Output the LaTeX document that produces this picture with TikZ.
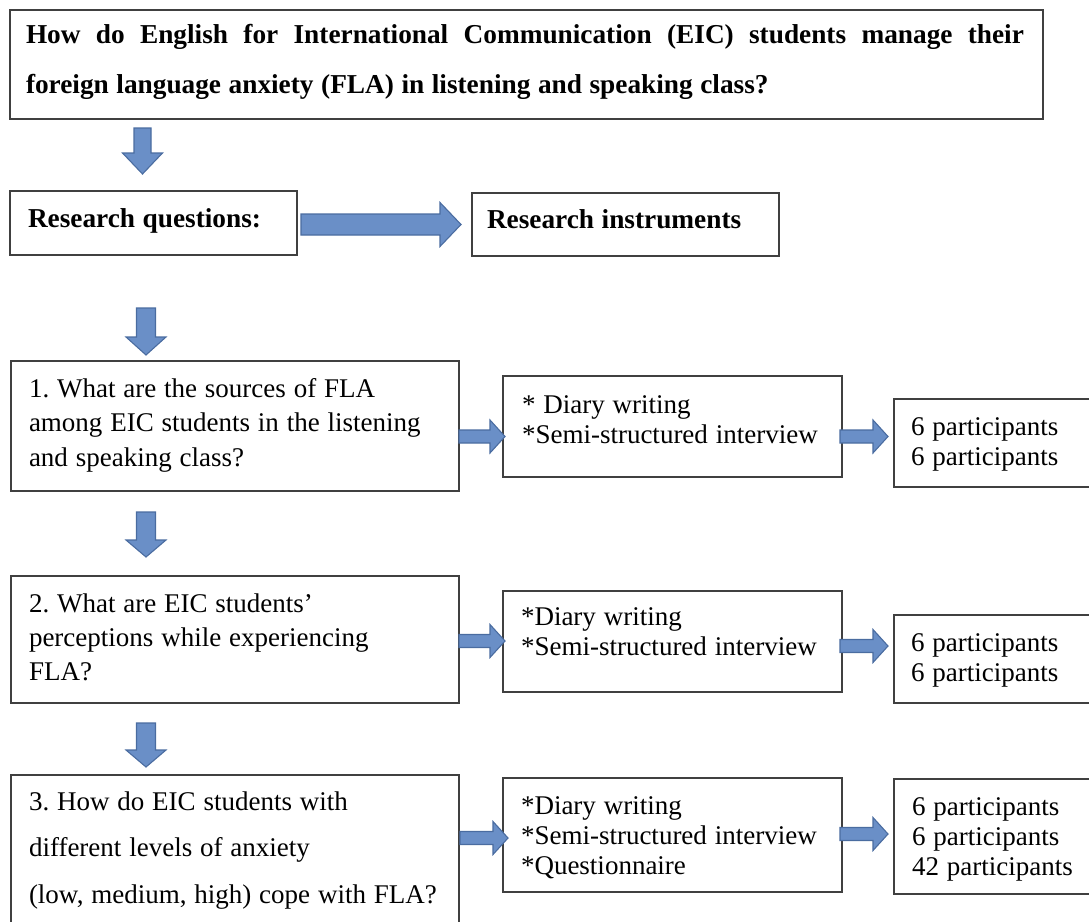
\documentclass[tikz,border=0pt]{standalone}
\usepackage{fontspec}
\setmainfont{Liberation Serif}
\usetikzlibrary{calc}
\frenchspacing

\definecolor{arrowfill}{RGB}{106,143,199}
\definecolor{arrowline}{RGB}{74,108,160}
\definecolor{boxline}{RGB}{64,64,64}

\tikzset{
  box/.style={draw=boxline, line width=1.4pt, fill=white, inner sep=0pt, outer sep=0pt},
  txt/.style={anchor=base west, inner sep=0pt, outer sep=0pt, align=left,
    execute at begin node={\spaceskip=0.29em\relax}},
  headtxt/.style={txt, execute at begin node={\spaceskip=0.277em\relax}},
  blockarrow/.style={fill=arrowfill, draw=arrowline, line width=1.1pt, line join=miter},
}

% block arrow from #1 to #2: shaft half width #3, head half width #4, head length #5
\newcommand{\blockarrow}[5]{%
  \path[blockarrow] let \p1=#1, \p2=#2,
      \n1={atan2(\y2-\y1,\x2-\x1)}, \n2={veclen(\x2-\x1,\y2-\y1)} in
    [shift={(\p1)}, rotate=\n1]
    (0,-#3) -- (\n2-#5,-#3) -- (\n2-#5,-#4) -- (\n2,0) -- (\n2-#5,#4)
    -- (\n2-#5,#3) -- (0,#3) -- cycle;}

% text sizes with their line pitch
\newcommand{\txtsize}[1]{\fontsize{27pt}{#1}\selectfont}
\newcommand{\headsize}[1]{\fontsize{27.3pt}{#1}\selectfont}
% a line whose word spaces stretch to the given width
\newcommand{\fullline}[2]{\makebox[#1][s]{\spaceskip=0.2em plus 1fil\relax #2}}

\begin{document}
\begin{tikzpicture}[x=1pt,y=-1pt]
\useasboundingbox (0,0) rectangle (1089,921);
\clip (0,0) rectangle (1089,921);

% boxes
\node[box, minimum width=1033pt, minimum height=109pt] (top) at (526.5,64.5) {};
\node[box, minimum width=287pt, minimum height=64pt] (rq) at (153.5,223) {};
\node[box, minimum width=307pt, minimum height=63pt] (ri) at (625.5,224.5) {};

\node[box, minimum width=448pt, minimum height=130pt] (q1) at (235,426) {};
\node[box, minimum width=339pt, minimum height=101pt] (i1) at (672.5,426.5) {};
\node[box, minimum width=206pt, minimum height=88pt] (p1) at (997,443) {};

\node[box, minimum width=448pt, minimum height=127pt] (q2) at (235,639.5) {};
\node[box, minimum width=339pt, minimum height=101pt] (i2) at (672.5,641.5) {};
\node[box, minimum width=206pt, minimum height=88pt] (p2) at (997,659) {};

\node[box, minimum width=448pt, minimum height=170pt] (q3) at (235,860) {};
\node[box, minimum width=339pt, minimum height=114pt] (i3) at (672.5,835) {};
\node[box, minimum width=206pt, minimum height=115pt] (p3) at (997,836.5) {};

% texts
\node[headtxt, text width=1000pt, font=\bfseries\headsize{50pt}] (toptext)
  at ($(top.north west)+(16,33)$)
  {\fullline{998pt}{How do English for International Communication (EIC) students manage their}\\
   foreign language anxiety (FLA) in listening and speaking class?};
\node[headtxt, font=\bfseries\headsize{34pt}] (rqtext) at ($(rq.north west)+(18,36)$) {Research questions:};
\node[headtxt, font=\bfseries\headsize{34pt}] (ritext) at ($(ri.north west)+(15,35)$) {Research instruments};

\node[txt, text width=440pt, font=\txtsize{34.5pt}] (q1text) at ($(q1.north west)+(18,36)$)
  {1. What are the sources of FLA\\{}among EIC students in the listening\\{}and speaking class?};
\node[txt, text width=440pt, font=\txtsize{34pt}] (q2text) at ($(q2.north west)+(18,36)$)
  {2. What are EIC students’\\{}perceptions while experiencing\\{}FLA?};
\node[txt, text width=440pt, font=\txtsize{46.7pt}] (q3text) at ($(q3.north west)+(18,35)$)
  {3. How do EIC students with\\{}different levels of anxiety\\{}(low, medium, high) cope with FLA?};

\node[txt, text width=330pt, font=\txtsize{30pt}] (i1text) at ($(i1.north west)+(19,37)$)
  {* Diary writing\\{}*Semi-structured interview};
\node[txt, text width=330pt, font=\txtsize{30pt}] (i2text) at ($(i2.north west)+(18,34)$)
  {*Diary writing\\{}*Semi-structured interview};
\node[txt, text width=330pt, font=\txtsize{30pt}] (i3text) at ($(i3.north west)+(18,36)$)
  {*Diary writing\\{}*Semi-structured interview\\{}*Questionnaire};

\node[txt, text width=190pt, font=\txtsize{30.5pt}] (p1text) at ($(p1.north west)+(17,36)$)
  {6 participants\\{}6 participants};
\node[txt, text width=190pt, font=\txtsize{30.5pt}] (p2text) at ($(p2.north west)+(17,36)$)
  {6 participants\\{}6 participants};
\node[txt, text width=190pt, font=\txtsize{30pt}] (p3text) at ($(p3.north west)+(18,36)$)
  {6 participants\\{}6 participants\\{}42 participants};

% column of the downward arrows
\coordinate (cxa) at (142.5,0);
\coordinate (cxb) at (146,0);

% downward arrows
\blockarrow{($(top.south -| cxa)+(0,9)$)}{($(rq.north -| cxa)+(0,-17)$)}{8.5}{20}{21}
\blockarrow{($(rq.south -| cxb)+(0,53)$)}{($(q1.north -| cxb)+(0,-6)$)}{9.5}{20}{18}
\blockarrow{($(q1.south -| cxb)+(0,21)$)}{($(q2.north -| cxb)+(0,-19)$)}{9.5}{20}{17}
\blockarrow{($(q2.south -| cxb)+(0,20)$)}{($(q3.north -| cxb)+(0,-8)$)}{9.5}{20}{17}

% rightward arrows
\blockarrow{($(rq.east)+(4,1.5)$)}{($(rq.east -| ri.west)+(-11,1.5)$)}{10.5}{22}{21}

\blockarrow{($(q1.east)+(0,10.5)$)}{($(q1.east -| i1.west)+(2,10.5)$)}{6.5}{16.5}{15}
\blockarrow{($(i1.east)+(-2,10)$)}{($(i1.east -| p1.west)+(-6,10)$)}{6.5}{16.5}{15}

\blockarrow{($(q2.east)+(0,1.5)$)}{($(q2.east -| i2.west)+(2,1.5)$)}{6.5}{16.5}{15}
\blockarrow{($(i2.east)+(-2,4.5)$)}{($(i2.east -| p2.west)+(-6,4.5)$)}{6.5}{16.5}{15}

\blockarrow{($(i3.west -| q3.east)+(1,3)$)}{($(i3.west)+(5,3)$)}{6.5}{16.5}{15}
\blockarrow{($(i3.east)+(-2,-1)$)}{($(i3.east -| p3.west)+(-6,-1)$)}{6.5}{16.5}{15}
\end{tikzpicture}
\end{document}
